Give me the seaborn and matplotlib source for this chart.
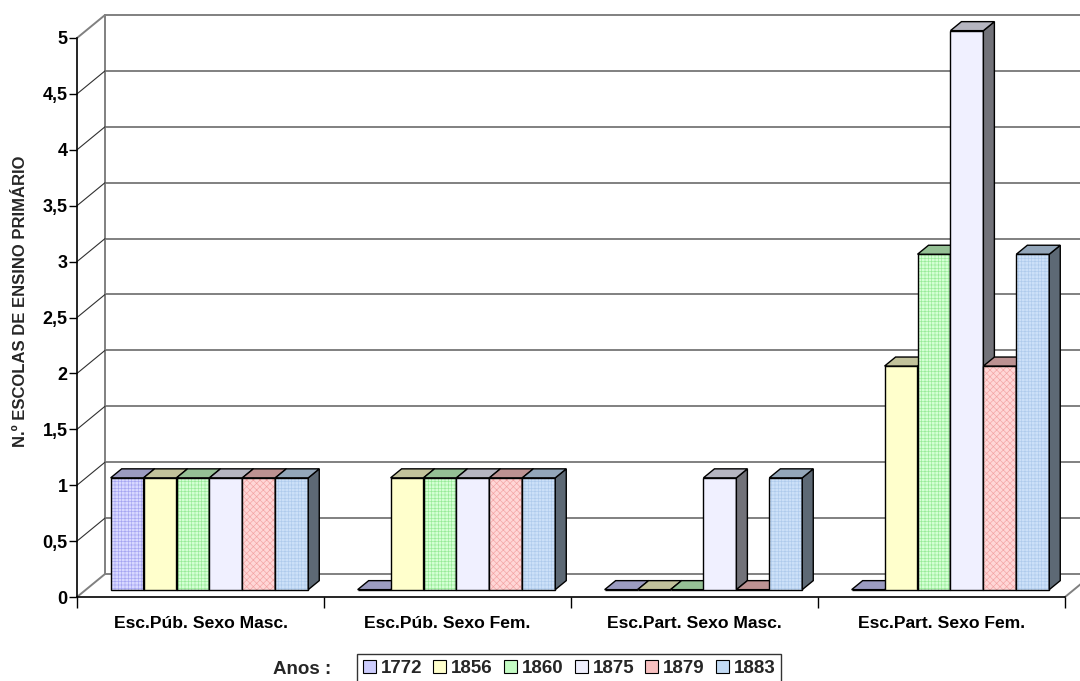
import matplotlib
matplotlib.use("Agg")
import matplotlib.pyplot as plt
import matplotlib.colors as mcolors
from matplotlib.patches import Polygon, Rectangle, Patch
from matplotlib.lines import Line2D
from matplotlib.ticker import FuncFormatter, FixedLocator
import numpy as np
import pandas as pd
import seaborn as sns

# --- data -------------------------------------------------------------
categorias = ["Esc.Púb. Sexo Masc.", "Esc.Púb. Sexo Fem.",
              "Esc.Part. Sexo Masc.", "Esc.Part. Sexo Fem."]
anos = ["1772", "1856", "1860", "1875", "1879", "1883"]
escolas_1772 = [1, 0, 0, 0]
escolas_1856 = [1, 1, 0, 2]
escolas_1860 = [1, 1, 0, 3]
escolas_1875 = [1, 1, 1, 5]
escolas_1879 = [1, 1, 0, 2]
escolas_1883 = [1, 1, 1, 3]
y_ticks = [0, 0.5, 1, 1.5, 2, 2.5, 3, 3.5, 4, 4.5, 5]

serie = [escolas_1772, escolas_1856, escolas_1860,
         escolas_1875, escolas_1879, escolas_1883]
df = pd.DataFrame({
    "categoria": np.repeat([categorias], len(anos), axis=0).ravel(),
    "ano": np.repeat(anos, len(categorias)),
    "escolas": np.concatenate(serie),
})

# --- style --------------------------------------------------------------
sns.set_style("white")
plt.rcParams["font.family"] = ["Liberation Sans", "DejaVu Sans"]
plt.rcParams["hatch.linewidth"] = 0.45

cor_base = ["#D8D8FF", "#FFFFCC", "#D4FFD4", "#F0F0FF", "#FFD6D6", "#CCE0F8"]
cor_trama = ["#A4A4F2", None, "#96EA96", None, "#F2A2A2", "#AECAEC"]
tramas = ["+++++", "", "+++++", "", "xxxxx", "+++++"]
cor_media = ["#CCCCFC", "#FFFFCC", "#C4FCC4", "#EEEEFC", "#F8C0C0", "#C2DAF4"]


def escurecer(c, f):
    r, g, b = mcolors.to_rgb(c)
    return (r * f, g * f, b * f)


W, H = 1080, 681
fig = plt.figure(figsize=(W / 100, H / 100), dpi=100)

# front plane of the 3-D box (pixels)
x_esq, x_dir = 77, 1065
y_zero, y_cinco = 597, 38
ax = fig.add_axes([x_esq / W, 1 - y_zero / H,
                   (x_dir - x_esq) / W, (y_zero - y_cinco) / H])
ax.patch.set_alpha(0)

sns.barplot(data=df, x="categoria", y="escolas", hue="ano",
            order=categorias, hue_order=anos, palette=cor_base,
            saturation=1, width=0.8, legend=False, ax=ax,
            edgecolor="black", linewidth=0, errorbar=None)

ax.set_xlim(-0.5, len(categorias) - 0.5)
ax.set_ylim(0, 5)

# pixel -> data conversion and depth vectors
px_x = (len(categorias)) / (x_dir - x_esq)
px_y = 5 / (y_zero - y_cinco)
DX, DY = 28 * px_x, 23 * px_y          # full depth of the box
f0 = 0.32                              # depth of the bars' front face
bdx, bdy = 11 * px_x, 9 * px_y         # depth of each bar

cinza = "#808080"
xa, xb = -0.5, len(categorias) - 0.5

# back wall gridlines and floor
for v in y_ticks:
    ax.add_line(Line2D([xa + DX, xb + DX], [v + DY, v + DY], color=cinza,
                       lw=1.4, clip_on=False, zorder=1))
# back wall left edge
ax.add_line(Line2D([xa + DX, xa + DX], [DY, 5 + DY], color=cinza, lw=1.4,
                   clip_on=False, zorder=1))
# side wall diagonals
for v in y_ticks:
    extremo = v in (0, 5)
    ax.add_line(Line2D([xa, xa + DX], [v, v + DY],
                       color=cinza if extremo else "#303030",
                       lw=1.4 if extremo else 0.8, clip_on=False, zorder=1))
# right floor edge
ax.add_line(Line2D([xb, xb + DX], [0, DY], color=cinza, lw=1.4,
                   clip_on=False, zorder=1))

# bars with top and side faces
for i, cont in enumerate(ax.containers):
    topo = escurecer(cor_media[i], 0.76)
    lado = escurecer(cor_media[i], 0.48)
    for j, p in enumerate(cont.patches):
        z = 3 + j * 0.1 + i * 0.01
        x = p.get_x() + f0 * DX
        w = p.get_width()
        h = p.get_height()
        y = f0 * DY
        p.set_x(x)
        p.set_y(y)
        p.set_zorder(z)
        p.set_clip_on(False)
        if tramas[i]:
            p.set_hatch(tramas[i])
            p.set_edgecolor(cor_trama[i])
        p.set_linewidth(0)
        ax.add_patch(Rectangle((x, y), w, h, fill=False, edgecolor="black",
                               lw=1.0, zorder=z + 0.001, clip_on=False))
        if h > 0:
            ax.add_patch(Polygon([(x + w, y), (x + w + bdx, y + bdy),
                                  (x + w + bdx, y + h + bdy), (x + w, y + h)],
                                 closed=True, facecolor=lado,
                                 edgecolor="black", lw=1.0,
                                 zorder=z + 0.002, clip_on=False))
        ax.add_patch(Polygon([(x, y + h), (x + w, y + h),
                              (x + w + bdx, y + h + bdy), (x + bdx, y + h + bdy)],
                             closed=True, facecolor=topo, edgecolor="black",
                             lw=1.0, zorder=z + 0.003, clip_on=False))

# axes, ticks and labels
for s in ("top", "right"):
    ax.spines[s].set_visible(False)
for s in ("left", "bottom"):
    ax.spines[s].set_color("black")
    ax.spines[s].set_linewidth(1.2)
    ax.spines[s].set_zorder(2)

ax.yaxis.set_major_locator(FixedLocator(y_ticks))
ax.yaxis.set_major_formatter(
    FuncFormatter(lambda v, _: f"{v:g}".replace(".", ",")))
ax.tick_params(axis="y", direction="out", length=6, width=1, pad=0.8,
               colors="black", labelsize=13, left=True)
for t in ax.get_yticklabels():
    t.set_fontweight("bold")

ax.set_xticks(range(len(categorias)))
ax.set_xticklabels(categorias, fontsize=12.6, fontweight="bold")
ax.set_xticks(np.arange(-0.5, len(categorias), 1.0), minor=True)
ax.tick_params(axis="x", which="major", length=0, pad=14, colors="black")
ax.tick_params(axis="x", which="minor", direction="out", length=8,
               width=1, colors="black", bottom=True)
ax.set_xlabel("")
ax.set_ylabel("")

fig.text(21 / W, 1 - 301 / H, "N.º ESCOLAS DE ENSINO PRIMÁRIO",
         rotation=90, ha="center", va="center", fontsize=12,
         fontweight="bold")

# legend
fig.text(302 / W, 1 - 670 / H, "Anos :", ha="center", va="center",
         fontsize=13.5, fontweight="bold")
handles = [Patch(facecolor=cor_media[i], edgecolor="black", lw=0.8,
                 label=a) for i, a in enumerate(anos)]
leg = fig.legend(handles=handles, loc="upper left", ncol=len(anos),
                 bbox_to_anchor=(357 / W, 1 - 654 / H), borderaxespad=0,
                 frameon=True, fancybox=False, edgecolor="black",
                 handlelength=0.7, handleheight=0.7, handletextpad=0.25,
                 columnspacing=0.6, borderpad=0.3,
                 prop={"size": 13.5, "weight": "bold"})
leg.get_frame().set_linewidth(1.0)

fig.savefig("out.png", dpi=100)
